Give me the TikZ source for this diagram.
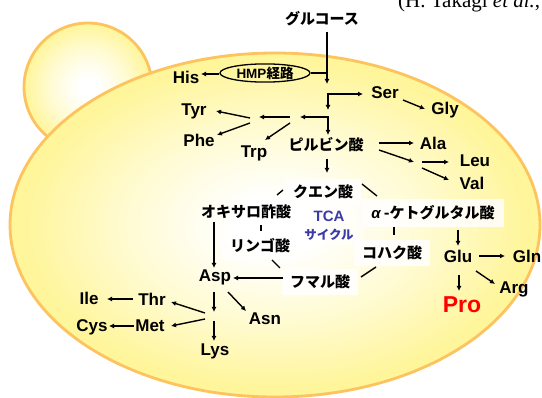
\documentclass[tikz,border=0pt]{standalone}
\usepackage{fontspec}
\setmainfont{Liberation Sans}
\newfontfamily\jp{Noto Sans CJK JP}
\newfontfamily\tnr{Liberation Serif}
\usetikzlibrary{arrows.meta,shapes.geometric}
\definecolor{yelE}{HTML}{FFF59A}
\definecolor{yelM}{HTML}{FFFBD2}
\definecolor{rimO}{HTML}{FDC35E}
\definecolor{tcaBlue}{HTML}{3A3AA8}
\definecolor{proRed}{HTML}{FF0000}
\pgfdeclareradialshading{bigglow}{\pgfpoint{0bp}{0bp}}{color(0bp)=(white); color(4bp)=(white); color(14bp)=(yelM); color(24bp)=(yelE); color(50bp)=(yelE)}
\pgfdeclareradialshading{smallglow}{\pgfpoint{0bp}{0bp}}{color(0bp)=(white); color(4bp)=(white); color(15bp)=(yelM); color(25bp)=(yelE); color(50bp)=(yelE)}
\begin{document}
\begin{tikzpicture}[x=1pt,y=-1pt,
  lat/.style={font=\fontsize{17}{20}\selectfont\bfseries, inner sep=0pt, anchor=base},
  jpn/.style={font=\fontsize{15}{18}\selectfont\jp\bfseries, inner sep=0pt},
  jpnbox/.style={jpn, fill=white, fill opacity=0.85, text opacity=1, inner xsep=8pt, inner ysep=6pt},
  hmpbox/.style={draw, ellipse, line width=1.3pt, minimum width=90pt, minimum height=17pt, inner sep=0pt, font=\fontsize{13.5}{15}\selectfont\bfseries},
  arr/.style={-{Latex[length=5pt,width=5pt]}, line width=1.4pt},
  arrb/.style={{Latex[length=5pt,width=5pt]}-{Latex[length=5pt,width=5pt]}, line width=1.4pt},
  ln/.style={line width=1.4pt}]
\useasboundingbox (0,0) rectangle (542,398);
\clip (0,0) rectangle (542,398);
% cells
\shade[shading=smallglow] (88,87) circle [radius=64];
\draw[rimO, line width=2.8pt] (88,87) circle [radius=64];
\shade[shading=bigglow] (275,225) ellipse [x radius=265, y radius=172];
\draw[rimO, line width=2.8pt] (275,225) ellipse [x radius=265, y radius=172];
% citation
\node[anchor=base west, inner sep=0pt, font=\tnr\fontsize{21}{24}\selectfont] (cite) at (398,7.5) {(H. Takagi \textit{et al.},};
% nodes
\node[jpn] (glc) at (322,19) {グルコース};
\node[hmpbox] (hmp) at (265,73) {HMP{\jp 経路}};
\node[lat] (his) at (186,84) {His};
\node[lat] (ser) at (385,99) {Ser};
\node[lat] (gly) at (445,114.5) {Gly};
\node[lat] (tyr) at (194,115.5) {Tyr};
\node[lat] (phe) at (199,146.5) {Phe};
\node[lat] (trp) at (254,157.5) {Trp};
\node[jpn] (pyr) at (326,145) {ピルビン酸};
\node[lat] (ala) at (433,150) {Ala};
\node[lat] (leu) at (475,167) {Leu};
\node[lat] (val) at (472,190) {Val};
\node[jpnbox] (cit) at (323,192) {クエン酸};
\node[jpn] (oxa) at (246,212) {オキサロ酢酸};
\node[jpnbox, inner xsep=9pt, inner ysep=7pt] (akg) at (433,213) {{\rmfamily\bfseries\itshape α} -ケトグルタル酸};
\node[jpnbox] (suc) at (392,253) {コハク酸};
\node[jpnbox] (fum) at (320,282) {フマル酸};
\node[jpnbox] (mal) at (260,246) {リンゴ酸};
\node[fill=white, fill opacity=0.5, text opacity=1, text=tcaBlue, align=center, inner xsep=8pt, inner ysep=5pt, font=\fontsize{15}{19}\selectfont\bfseries] (tca) at (329,226) {TCA\\[-1pt]{\jp\fontsize{12.5}{15}\selectfont サイクル}};
\node[lat] (glu) at (458,263) {Glu};
\node[lat] (gln) at (527,263) {Gln};
\node[lat] (arg) at (514,294) {Arg};
\node[lat, font=\fontsize{23}{26}\selectfont\bfseries, text=proRed] (pro) at (462,313) {Pro};
\node[lat] (asp) at (215,282) {Asp};
\node[lat] (asn) at (265,325) {Asn};
\node[lat] (thr) at (152,306) {Thr};
\node[lat] (ile) at (89,305) {Ile};
\node[lat] (met) at (150,332) {Met};
\node[lat] (cys) at (92,332) {Cys};
\node[lat] (lys) at (215,355.5) {Lys};
% coordinates
\coordinate (g1) at (327,84);
\coordinate (h1) at (327,73);
\coordinate (hisA) at (201,74);
\coordinate (c1) at (328,94);
\coordinate (serA) at (363,94);
\coordinate (c1d) at (328,110);
\coordinate (c2) at (328,117);
\coordinate (c2l) at (300,117);
\coordinate (pyrA) at (328,135);
\coordinate (ta) at (290,117);
\coordinate (tb) at (259,117);
\coordinate (tyS) at (250,118);
\coordinate (tyA) at (216,111);
\coordinate (phS) at (250,123);
\coordinate (phA) at (217,135);
\coordinate (trS) at (290,123);
\coordinate (trA) at (265,140);
\coordinate (pcS) at (327,159);
\coordinate (citA) at (327,173);
\coordinate (alS) at (379,143);
\coordinate (alA) at (414,143);
\coordinate (lvS) at (379,150);
\coordinate (lvA) at (414,162);
\coordinate (leS) at (422,162);
\coordinate (leA) at (449,162);
\coordinate (vaS) at (422,168);
\coordinate (vaA) at (449,180);
\coordinate (glS) at (403,100);
\coordinate (glA) at (425,109);
% glucose and HMP
\draw[arr, shorten <=5pt] (glc.south -| g1) -- (g1);
\draw[ln] (hmp.east) -- (h1);
\draw[arr] (hmp.west |- hisA) -- (hisA);
\draw[arrb] (c1d) -- (c1) -- (serA);
\draw[arrb] (c2l) -- (c2) -- (pyrA);
\draw[arr] (ta) -- (tb);
\draw[arr] (tyS) -- (tyA);
\draw[arr] (phS) -- (phA);
\draw[arr] (trS) -- (trA);
\draw[arr] (pcS) -- (citA);
\draw[arr] (alS) -- (alA);
\draw[arr] (lvS) -- (lvA);
\draw[arr] (leS) -- (leA);
\draw[arr] (vaS) -- (vaA);
\draw[arr] (glS) -- (glA);
% TCA cycle links
\coordinate (k1) at (277,195); \coordinate (k2) at (283,190);
\coordinate (k3) at (362,184); \coordinate (k4) at (377,196);
\coordinate (k5) at (394,227); \coordinate (k6) at (394,235);
\coordinate (k7) at (376,267); \coordinate (k8) at (361,277);
\coordinate (k9) at (272,260); \coordinate (k10) at (280,268);
\coordinate (k11) at (261,225); \coordinate (k12) at (261,231);
\draw[ln] (k1) -- (k2);
\draw[ln] (k3) -- (k4);
\draw[ln] (k5) -- (k6);
\draw[ln] (k7) -- (k8);
\draw[ln] (k9) -- (k10);
\draw[ln] (k11) -- (k12);
% Asp family
\coordinate (faS) at (283,278); \coordinate (aspA) at (233,278);
\coordinate (oaS) at (214,222); \coordinate (oaA) at (214,268);
\coordinate (d1S) at (214,292); \coordinate (d1A) at (214,312);
\coordinate (d2S) at (214,321); \coordinate (d2A) at (214,341);
\coordinate (anS) at (228,292); \coordinate (anA) at (246,311);
\coordinate (thS) at (205,313); \coordinate (thA) at (171,302);
\coordinate (meS) at (205,319); \coordinate (meA) at (171,326);
\coordinate (ilS) at (133,299); \coordinate (ilA) at (107,299);
\coordinate (cyS) at (134,326); \coordinate (cyA) at (109,326);
\draw[arr] (faS) -- (aspA);
\draw[arr] (oaS) -- (oaA);
\draw[arr] (d1S) -- (d1A);
\draw[arr] (d2S) -- (d2A);
\draw[arr] (anS) -- (anA);
\draw[arr] (thS) -- (thA);
\draw[arr] (meS) -- (meA);
\draw[arr] (ilS) -- (ilA);
\draw[arr] (cyS) -- (cyA);
% Glu family
\coordinate (guS) at (458,230); \coordinate (guA) at (458,246);
\coordinate (gnS) at (479,256); \coordinate (gnA) at (505,256);
\coordinate (arS) at (476,271); \coordinate (arA) at (495,284);
\coordinate (prS) at (459,275); \coordinate (prA) at (459,291);
\draw[arr] (guS) -- (guA);
\draw[arr] (gnS) -- (gnA);
\draw[arr] (arS) -- (arA);
\draw[arr] (prS) -- (prA);
\end{tikzpicture}
\end{document}
